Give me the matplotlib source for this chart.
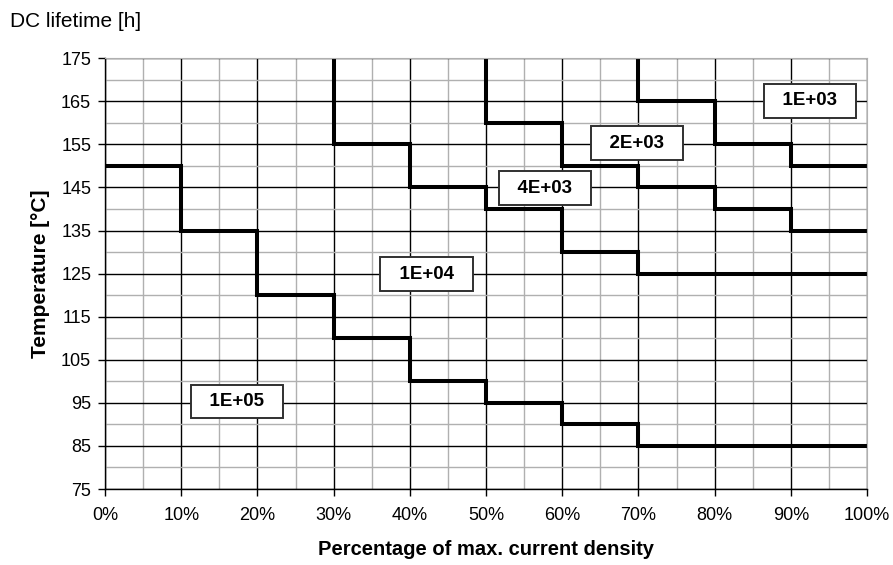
import matplotlib.pyplot as plt
import numpy as np
from matplotlib.ticker import MultipleLocator, FuncFormatter

plt.rcParams['font.family'] = ['Liberation Sans', 'DejaVu Sans']

# lifetime boundaries: (x edges in %, temperature level per segment)
edges_1e05 = [0, 10, 20, 30, 40, 50, 60, 70, 100]
temps_1e05 = [150, 135, 120, 110, 100, 95, 90, 85]
edges_1e04 = [30, 40, 50, 60, 70, 100]
temps_1e04 = [155, 145, 140, 130, 125]
edges_4e03 = [50, 60, 70, 80, 90, 100]
temps_4e03 = [160, 150, 145, 140, 135]
edges_2e03 = [70, 80, 90, 100]
temps_2e03 = [165, 155, 150]

# region labels and where they sit (x %, °C)
labels = ["1E+05", "1E+04", "4E+03", "2E+03", "1E+03"]
label_x = [17.3, 42.2, 57.7, 69.8, 92.5]
label_y = [95.3, 124.9, 144.8, 155.3, 165.1]

fig = plt.figure(figsize=(8.93, 5.65), dpi=100)
ax = fig.add_axes([0.1176, 0.1345, 0.8533, 0.7625])

ax.set_xlim(0, 100)
ax.set_ylim(75, 175)
ax.xaxis.set_major_locator(MultipleLocator(10))
ax.xaxis.set_minor_locator(MultipleLocator(5))
ax.set_yticks(np.arange(75, 176, 10))
ax.set_yticks(np.arange(80, 175, 10), minor=True)
ax.xaxis.set_major_formatter(FuncFormatter(lambda v, p: f"{v:.0f}%"))

ax.grid(which='minor', color='#b0b0b0', lw=1.0)
ax.grid(which='major', color='black', lw=1.0)
ax.set_axisbelow(True)

for side in ['top', 'right']:
    ax.spines[side].set_color('#b0b0b0')
for side in ['left', 'bottom']:
    ax.spines[side].set_linewidth(1.0)

ax.tick_params(which='major', direction='out', length=5, width=1,
               labelsize=13, colors='black')
ax.tick_params(axis='x', pad=8)
ax.tick_params(axis='y', pad=5)
ax.tick_params(which='minor', length=0)


def draw_boundary(edges, temps, top=None):
    xs = list(edges)
    ys = list(temps) + [temps[-1]]
    if top is not None:
        xs = [edges[0]] + xs
        ys = [top] + ys
    ax.step(xs, ys, where='post', color='black', lw=2.9, clip_on=False,
            solid_joinstyle='miter', solid_capstyle='butt')


draw_boundary(edges_1e05, temps_1e05)
draw_boundary(edges_1e04, temps_1e04, top=175)
draw_boundary(edges_4e03, temps_4e03, top=175)
draw_boundary(edges_2e03, temps_2e03, top=175)

for txt, lx, ly in zip(labels, label_x, label_y):
    ax.text(lx, ly, "  " + txt + "  ", ha='center', va='center',
            fontsize=13.5, fontweight='bold', zorder=5,
            bbox=dict(boxstyle='square,pad=0.45', fc='white', ec='#303030',
                      lw=1.4))

ax.set_xlabel("Percentage of max. current density", fontsize=14.5,
              fontweight='bold', va='center')
ax.set_ylabel("Temperature [°C]", fontsize=15, fontweight='bold',
              va='center')
ax.xaxis.set_label_coords(0.5, -0.1415)
ax.yaxis.set_label_coords(-0.0853, 0.5)
fig.text(0.011, 0.962, "DC lifetime [h]", fontsize=15, ha='left',
         va='center')

fig.savefig("out.png", dpi=100)
